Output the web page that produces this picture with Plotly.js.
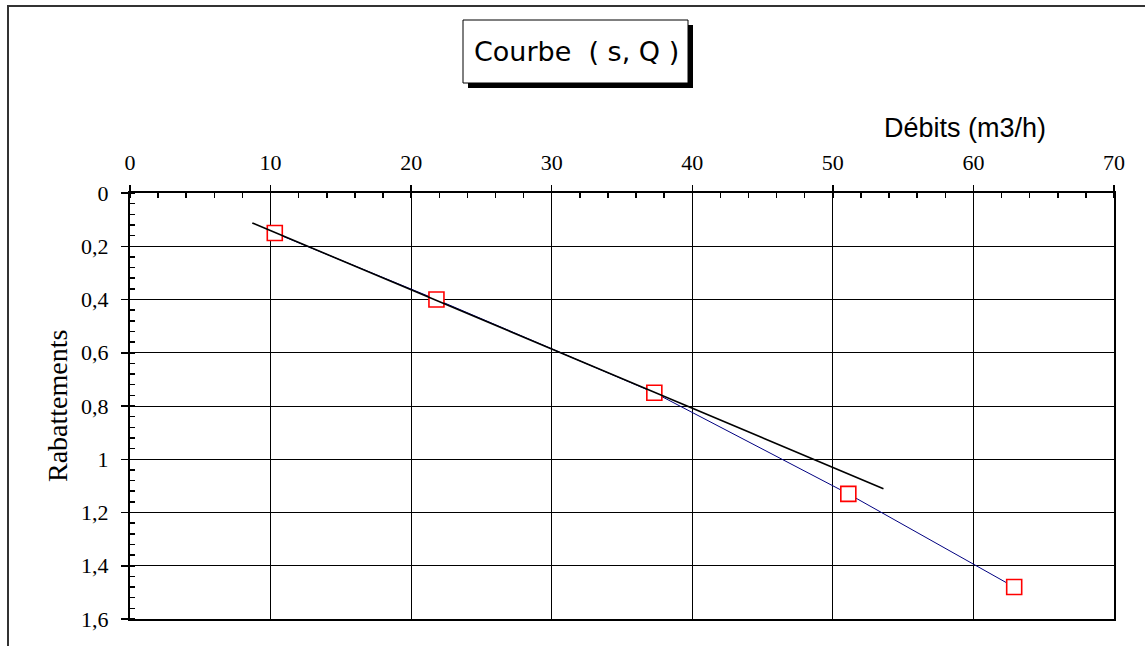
<!DOCTYPE html>
<html>
<head>
<meta charset="utf-8">
<script src="https://cdn.plot.ly/plotly-3.0.1.min.js"></script>
<style>
  html, body { margin: 0; padding: 0; background: #fff; }
  #graphe { width: 1145px; height: 646px; }
</style>
</head>
<body>
<div id="graphe"></div>
<script>
// débits (m3/h) et rabattements (m)
const debits = [10.3, 21.8, 37.3, 51.1, 62.9];
const rabattements = [0.15, 0.40, 0.75, 1.13, 1.48];
// droite de tendance : régression sur les 3 premiers points, tracée de 8,7 à 53,6
const nbPointsTendance = 3;
const tendanceX = [8.7, 53.6];

function regression(xs, ys) {
  const n = xs.length;
  const mx = xs.reduce((a, b) => a + b, 0) / n;
  const my = ys.reduce((a, b) => a + b, 0) / n;
  let sxy = 0, sxx = 0;
  for (let i = 0; i < n; i++) {
    sxy += (xs[i] - mx) * (ys[i] - my);
    sxx += (xs[i] - mx) * (xs[i] - mx);
  }
  const pente = sxy / sxx;
  return { pente, origine: my - pente * mx };
}

const reg = regression(debits.slice(0, nbPointsTendance), rabattements.slice(0, nbPointsTendance));
const tendanceY = tendanceX.map(x => reg.origine + reg.pente * x);

// marges en pixels -> coordonnées papier
const M = { l: 130, r: 31, t: 193, b: 27 };
const W = 1145, H = 646;
const largeur = W - M.l - M.r;
const hauteur = H - M.t - M.b;
const px = x => (x - M.l) / largeur;
const py = y => (H - M.b - y) / hauteur;

const courbe = {
  x: debits,
  y: rabattements,
  type: 'scatter',
  mode: 'lines',
  line: { color: '#000080', width: 1 },
  hoverinfo: 'skip'
};

const points = {
  x: debits,
  y: rabattements,
  type: 'scatter',
  mode: 'markers',
  marker: { symbol: 'square', size: 15, color: '#ffffff', line: { color: '#ff0000', width: 1.6 } }
};

const tendance = {
  x: tendanceX,
  y: tendanceY,
  type: 'scatter',
  mode: 'lines',
  line: { color: '#000000', width: 1.6 }
};

const policeSerif = '"Liberation Serif", "Times New Roman", serif';

const diseno = {
  width: W,
  height: H,
  margin: M,
  showlegend: false,
  paper_bgcolor: '#ffffff',
  plot_bgcolor: '#ffffff',
  separators: ', ',
  xaxis: {
    side: 'top',
    range: [0, 70],
    dtick: 10,
    tick0: 0,
    ticks: 'outside',
    ticklen: 6,
    tickwidth: 1.5,
    tickcolor: '#000',
    showline: true,
    linecolor: '#000',
    linewidth: 2,
    mirror: true,
    showgrid: true,
    gridcolor: '#000',
    gridwidth: 1,
    zeroline: false,
    ticklabelstandoff: 6,
    tickfont: { family: policeSerif, size: 22, color: '#000' },
    minor: { dtick: 2, ticks: 'inside', ticklen: 5, tickwidth: 1.5, tickcolor: '#000', showgrid: false }
  },
  yaxis: {
    range: [1.6, 0],
    dtick: 0.2,
    tick0: 0,
    ticks: 'outside',
    ticklen: 7,
    tickwidth: 1.5,
    tickcolor: '#000',
    showline: true,
    linecolor: '#000',
    linewidth: 2,
    mirror: true,
    showgrid: true,
    gridcolor: '#000',
    gridwidth: 1,
    zeroline: false,
    ticklabelstandoff: 8,
    tickfont: { family: policeSerif, size: 22, color: '#000' },
    minor: { dtick: 0.04, ticks: 'inside', ticklen: 5, tickwidth: 1.5, tickcolor: '#000', showgrid: false }
  },
  shapes: [
    // cadre extérieur
    { type: 'rect', xref: 'paper', yref: 'paper', x0: px(8), x1: px(1160), y0: py(6), y1: py(660),
      line: { color: '#333', width: 2 }, fillcolor: 'rgba(0,0,0,0)', layer: 'below' },
    // ombre du titre
    { type: 'rect', xref: 'paper', yref: 'paper', x0: px(468), x1: px(693), y0: py(25), y1: py(88),
      line: { width: 0 }, fillcolor: '#000' },
    // cadre du titre
    { type: 'rect', xref: 'paper', yref: 'paper', x0: px(463), x1: px(688), y0: py(20), y1: py(83),
      line: { color: '#000', width: 1 }, fillcolor: '#fff' }
  ],
  annotations: [
    { text: 'Courbe  ( s, Q )', xref: 'paper', yref: 'paper', x: px(576), y: py(51),
      xanchor: 'center', yanchor: 'middle', showarrow: false,
      font: { family: 'DejaVu Sans', size: 27, color: '#000' } },
    { text: 'Débits (m3/h)', xref: 'paper', yref: 'paper', x: px(965), y: py(128),
      xanchor: 'center', yanchor: 'middle', showarrow: false,
      font: { family: 'Liberation Sans', size: 27, color: '#000' } },
    { text: 'Rabattements', xref: 'paper', yref: 'paper', x: px(57), y: py(406),
      xanchor: 'center', yanchor: 'middle', textangle: -90, showarrow: false,
      font: { family: policeSerif, size: 28, color: '#000' } }
  ]
};

Plotly.newPlot('graphe', [courbe, points, tendance], diseno, { displayModeBar: false, staticPlot: true });
</script>
</body>
</html>
